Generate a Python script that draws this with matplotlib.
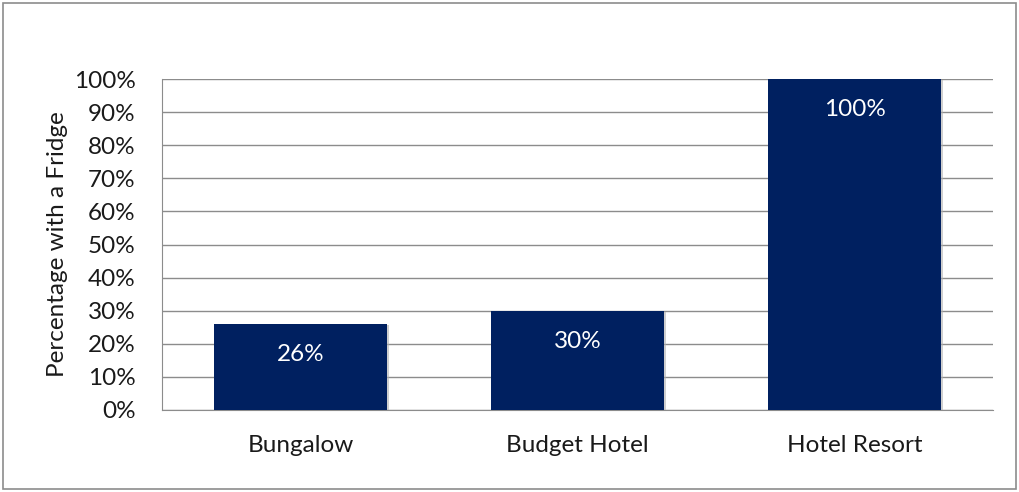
import matplotlib.pyplot as plt
from matplotlib.patches import Rectangle
from matplotlib.ticker import PercentFormatter
import matplotlib.patheffects as pe

# chart data
categories = ['Bungalow', 'Budget Hotel', 'Hotel Resort']
fridge_pct = [26, 30, 100]
y_ticks = list(range(0, 101, 10))

plt.rcParams['font.family'] = ['Lato', 'DejaVu Sans']
fs = 17.5

fig = plt.figure(figsize=(10.2, 4.92), dpi=100)
ax = fig.add_axes([162 / 1020, 1 - 410 / 492, 831 / 1020, 331 / 492])

# outer frame like an Excel chart area
fig.patches.append(Rectangle((3 / 1020, 3 / 492), 1013 / 1020, 486 / 492,
                             transform=fig.transFigure, fill=False,
                             edgecolor='#8c8c8c', linewidth=1.2))

x = range(len(categories))
bars = ax.bar(x, fridge_pct, width=0.625, color='#002060', zorder=3,
              path_effects=[pe.SimplePatchShadow(offset=(1.5, -1), shadow_rgbFace='#b0b0b0', alpha=0.6),
                            pe.Normal()])

for xi, v in zip(x, fridge_pct):
    ax.annotate(f'{v}%', (xi, v), xytext=(0, -22), textcoords='offset points',
                ha='center', va='center', color='white', fontsize=fs, zorder=4)

ax.set_xlim(-0.5, len(categories) - 0.5)
ax.set_ylim(0, 100)
ax.set_yticks(y_ticks)
ax.yaxis.set_major_formatter(PercentFormatter(decimals=0))
ax.set_xticks(list(x))
ax.set_xticklabels(categories)
ax.tick_params(axis='both', length=0, labelsize=fs, colors='#1a1a1a')
ax.tick_params(axis='x', pad=18)
ax.tick_params(axis='y', pad=19)
ax.grid(axis='y', color='#8c8c8c', linewidth=1, zorder=0)
for s in ['top', 'right']:
    ax.spines[s].set_visible(False)
ax.spines['left'].set_color('#8c8c8c')
ax.spines['bottom'].set_color('#8c8c8c')

ax.set_ylabel('Percentage with a Fridge', fontsize=fs, color='#1a1a1a', labelpad=4)

fig.savefig('out.png', dpi=100)
